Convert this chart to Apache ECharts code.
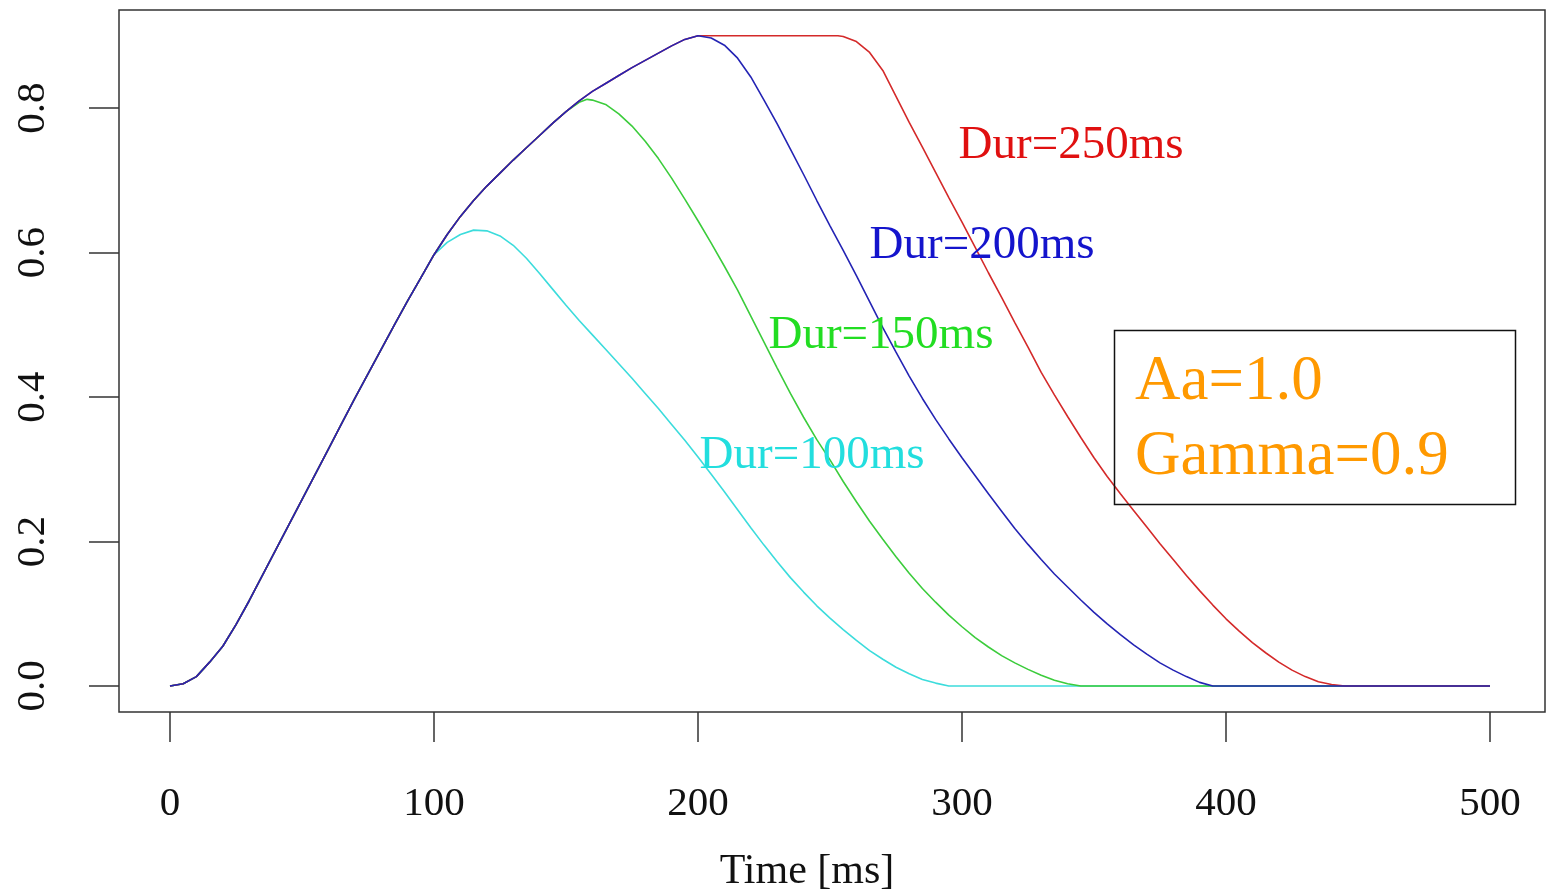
<!DOCTYPE html>
<html>
<head>
<meta charset="utf-8">
<script src="https://cdn.jsdelivr.net/npm/echarts@6/dist/echarts.min.js"></script>
<style>
html,body{margin:0;padding:0;background:#fff;}
#chart{width:1551px;height:893px;}
</style>
</head>
<body>
<div id="chart"></div>
<script>
// ---- data ----
const xTicks = [0, 100, 200, 300, 400, 500];
const yTicks = [0, 0.2, 0.4, 0.6, 0.8];

const riseTime  = [0,5,10,15,20,25,30,35,40,45,50,55,60,65,70,75,80,85,90,95,100];
const riseValue = [0,0.003,0.013,0.033,0.055,0.085,0.118,0.153,0.188,0.223,0.258,0.293,0.328,0.363,0.398,0.432,0.466,0.5,0.533,0.565,0.597];

const upperTime  = [105,110,115,120,125,130,135,140,145,150,155,160,165,170,175,180,185,190,195,200];
const upperValue = [0.625,0.65,0.672,0.692,0.71,0.728,0.745,0.762,0.779,0.795,0.81,0.823,0.834,0.845,0.856,0.866,0.876,0.886,0.895,0.9];

const cyanTime  = [105,110,115,120,125,130,135,140,145,150,155,160,165,170,175,180,185,190,195,200,205,210,215,220,225,230,235,240,245,250,255,260,265,270,275,280,285,290,295,500];
const cyanValue = [0.614,0.625,0.631,0.63,0.623,0.61,0.592,0.571,0.549,0.527,0.506,0.486,0.466,0.446,0.426,0.405,0.384,0.362,0.34,0.317,0.293,0.269,0.244,0.219,0.195,0.172,0.15,0.13,0.111,0.094,0.078,0.063,0.049,0.037,0.026,0.017,0.009,0.004,0,0];

const greenTime  = [155,158,160,165,170,175,180,185,190,195,200,205,210,215,220,225,230,235,240,245,250,255,260,265,270,275,280,285,290,295,300,305,310,315,320,325,330,335,340,345,500];
const greenValue = [0.808,0.812,0.811,0.805,0.792,0.775,0.754,0.73,0.703,0.674,0.644,0.613,0.581,0.548,0.512,0.476,0.44,0.405,0.372,0.341,0.313,0.283,0.255,0.228,0.203,0.179,0.156,0.135,0.116,0.098,0.082,0.067,0.054,0.042,0.032,0.023,0.015,0.008,0.003,0,0];

const blueTime  = [205,210,215,220,225,230,235,240,245,250,255,260,265,270,275,280,285,290,295,300,305,310,315,320,325,330,335,340,345,350,355,360,365,370,375,380,385,390,395,500];
const blueValue = [0.897,0.887,0.869,0.843,0.811,0.778,0.743,0.708,0.672,0.637,0.603,0.568,0.532,0.496,0.462,0.429,0.398,0.369,0.342,0.316,0.291,0.266,0.242,0.218,0.196,0.175,0.155,0.137,0.119,0.102,0.086,0.071,0.057,0.044,0.032,0.022,0.013,0.005,0,0];

const redTime  = [253,255,260,265,270,275,280,285,290,295,300,305,310,315,320,325,330,335,340,345,350,355,360,365,370,375,380,385,390,395,400,405,410,415,420,425,430,435,440,445,500];
const redValue = [0.9,0.899,0.892,0.877,0.852,0.816,0.78,0.746,0.711,0.676,0.642,0.607,0.572,0.538,0.503,0.469,0.434,0.403,0.373,0.344,0.316,0.29,0.266,0.243,0.22,0.197,0.175,0.153,0.132,0.112,0.093,0.076,0.06,0.046,0.033,0.022,0.013,0.006,0.002,0,0];

const curveLabels = ['Dur=250ms', 'Dur=200ms', 'Dur=150ms', 'Dur=100ms'];
const labelTime   = [341.3, 307.6, 269.3, 243.2];
const labelValue  = [0.7475, 0.609, 0.4845, 0.3185];

const noteLines = ['Aa=1.0', 'Gamma=0.9'];
const axisTitle = 'Time [ms]';

// ---- build series ----
function pairs(ts, vs) { return ts.map((t, i) => [t, vs[i]]); }
const rise = pairs(riseTime, riseValue);
const upper = pairs(upperTime, upperValue);

const cyanData  = rise.concat(pairs(cyanTime, cyanValue));
const greenData = rise.concat(upper.filter(p => p[0] <= 150), pairs(greenTime, greenValue));
const blueData  = rise.concat(upper, pairs(blueTime, blueValue));
const redData   = rise.concat(upper, pairs(redTime, redValue));

const SERIF = "'Liberation Serif','Times New Roman',Times,serif";
const lineColors  = {red:'#d42a2a', blue:'#2424b4', green:'#3ccc3c', cyan:'#3cdcdc'};
const labelColors = ['#e01010', '#1414cc', '#22dd22', '#22dede'];

function lineSeries(name, data, color) {
  return {
    name, type: 'line', data, showSymbol: false, symbol: 'none', smooth: false,
    lineStyle: {color, width: 1.6}, itemStyle: {color}, animation: false, z: 2
  };
}

const chart = echarts.init(document.getElementById('chart'), null, {renderer: 'canvas'});

const option = {
  backgroundColor: '#ffffff',
  animation: false,
  grid: {left: 119, top: 10, width: 1426, height: 702, show: true, borderColor: '#333', borderWidth: 1.5, backgroundColor: 'transparent'},
  xAxis: {
    type: 'value', min: -19.32, max: 520.83,
    axisLine: {show: false, onZero: false},
    splitLine: {show: false},
    axisTick: {show: true, inside: false, length: 30, customValues: xTicks, lineStyle: {color: '#333', width: 1.5}},
    axisLabel: {show: true, customValues: xTicks, margin: 92, verticalAlign: 'middle', fontFamily: SERIF, fontSize: 41, color: '#111'}
  },
  yAxis: {
    type: 'value', min: -0.036, max: 0.9357,
    axisLine: {show: false, onZero: false},
    splitLine: {show: false},
    axisTick: {show: true, inside: false, length: 30, customValues: yTicks, lineStyle: {color: '#333', width: 1.5}},
    axisLabel: {show: true, customValues: yTicks, margin: 86, rotate: 90, align: 'center', verticalAlign: 'middle',
      fontFamily: SERIF, fontSize: 41, color: '#111', formatter: v => v.toFixed(1)}
  },
  series: [
    lineSeries('cyan', cyanData, lineColors.cyan),
    lineSeries('green', greenData, lineColors.green),
    lineSeries('red', redData, lineColors.red),
    lineSeries('blue', blueData, lineColors.blue),
    {
      type: 'scatter', symbol: 'circle', symbolSize: 1, itemStyle: {color: 'rgba(0,0,0,0)', opacity: 1}, z: 5, silent: true,
      data: curveLabels.map((s, i) => ({value: [labelTime[i], labelValue[i]], name: s,
        label: {color: labelColors[i]}})),
      label: {show: true, position: 'inside', formatter: p => p.name, fontFamily: SERIF, fontSize: 47, align: 'center', verticalAlign: 'middle'},
      labelLayout: {hideOverlap: false}
    }
  ],
  graphic: [
    {type: 'rect', shape: {x: 1114.5, y: 330.5, width: 401, height: 174}, style: {fill: 'rgba(0,0,0,0)', stroke: '#111', lineWidth: 1.5}, z: 10},
    {type: 'text', x: 1135, y: 382, style: {text: noteLines[0], font: '63px ' + SERIF, fill: '#ff9900', verticalAlign: 'middle', align: 'left'}, z: 11},
    {type: 'text', x: 1135, y: 457, style: {text: noteLines[1], font: '63px ' + SERIF, fill: '#ff9900', verticalAlign: 'middle', align: 'left'}, z: 11},
    {type: 'text', x: 807, y: 872, style: {text: axisTitle, font: '42px ' + SERIF, fill: '#111', verticalAlign: 'middle', align: 'center'}, z: 11}
  ]
};
chart.setOption(option);
</script>
</body>
</html>
